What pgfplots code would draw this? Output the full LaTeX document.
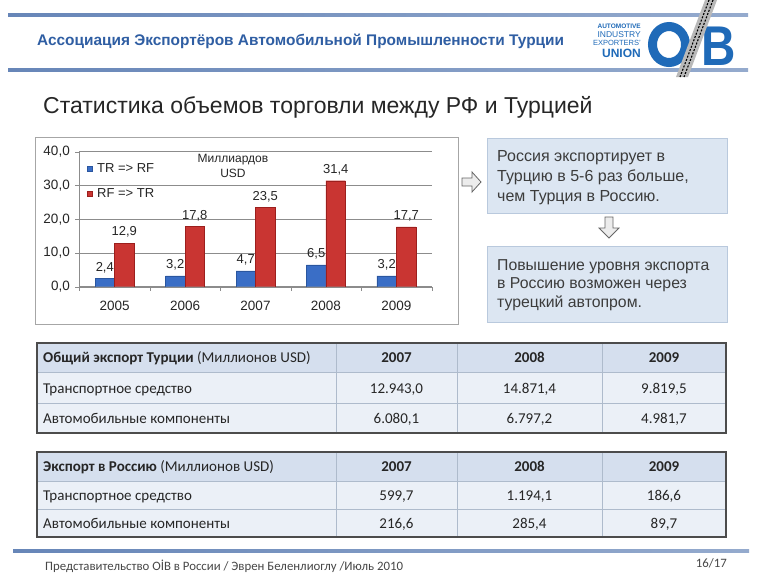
\documentclass[border=0pt]{standalone}
\usepackage{fontspec}
\setmainfont{Liberation Sans}
\newfontfamily\calibri{Carlito}
\usepackage{pgfplots}
\pgfplotsset{compat=1.18}

\definecolor{hdrblue}{HTML}{2F5EA3}
\definecolor{lineblue}{HTML}{6786B8}
\definecolor{logoblue}{HTML}{1F6AB8}
\definecolor{boxfill}{HTML}{DCE6F2}
\definecolor{boxdraw}{HTML}{B9C9DD}
\definecolor{barblue}{HTML}{3A6EC6}
\definecolor{barbluee}{HTML}{2A569F}
\definecolor{barred}{HTML}{C93532}
\definecolor{barrede}{HTML}{9C1F1D}
\definecolor{thead}{HTML}{D5DFEE}
\definecolor{tbody}{HTML}{EBF0F7}
\definecolor{tline}{HTML}{AEBBCC}
\definecolor{txt}{HTML}{262626}
\definecolor{gridgray}{HTML}{8C8C8C}

\newcommand\fs[1]{\fontsize{#1}{#1}\selectfont}

\begin{document}
\begin{tikzpicture}
\useasboundingbox (0,0) rectangle (768pt,-576pt);
\fill[white] (0,0) rectangle (768pt,-576pt);

\begin{scope}[x=1pt,y=-1pt]
% header
\shade[left color=lineblue, right color=lineblue!70] (8,13.5) rectangle (748,16.5);
\shade[left color=lineblue, right color=lineblue!70] (8,68.5) rectangle (748,71.5);
\node[anchor=base west, inner sep=0, text=hdrblue, font=\fs{15.4}\bfseries] at (37,45.5) {Ассоциация Экспортёров Автомобильной Промышленности Турции};
% logo
\fill[white] (592,18) rectangle (742,68);
\node[anchor=east, inner sep=0, text=logoblue, font=\fs{6.5}\bfseries] at (641,26) {AUTOMOTIVE};
\node[anchor=east, inner sep=0, text=logoblue, font=\fs{8.5}] at (641,34.5) {INDUSTRY};
\node[anchor=east, inner sep=0, text=logoblue, font=\fs{7.5}] at (641,43) {EXPORTERS'};
\node[anchor=east, inner sep=0, text=logoblue, font=\fs{12}\bfseries] at (641,53.5) {UNION};
\draw[logoblue, line width=9] (669,44.5) ellipse (16.5 and 18);
\node[anchor=west, inner sep=0, text=logoblue, font=\fs{56}\bfseries] at (701,46) {\scalebox{0.85}[1]{B}};
\fill[gray!55] (705,0) -- (717,0) -- (688,77) -- (676,77) -- cycle;
\draw[black, dash pattern=on 2pt off 1.5pt, line width=1.1] (709,0) -- (680,77) (713,0) -- (684,77);

% title
\node[anchor=base west, inner sep=0, text=txt, font=\fs{23}] at (43,113) {Статистика объемов торговли между РФ и Турцией};

% chart frame
\filldraw[fill=white, draw=gray!70] (35,137) rectangle (458,324);

% arrows and boxes
\filldraw[fill=gray!15, draw=gray!80!black, line width=0.8] (462,178) -- (472,178) -- (472,172) -- (481,182) -- (472,192) -- (472,186) -- (462,186) -- cycle;
\filldraw[fill=gray!15, draw=gray!80!black, line width=0.8] (605,217) -- (613,217) -- (613,228) -- (619,228) -- (609,238) -- (599,228) -- (605,228) -- cycle;
\filldraw[fill=boxfill, draw=boxdraw] (487,138) rectangle (727,213);
\filldraw[fill=boxfill, draw=boxdraw] (487,246) rectangle (727,322);
\node[anchor=west, align=left, inner sep=0, text=txt!90, font=\fontsize{16}{20}\selectfont] at (497,178) {Россия экспортирует в\\Турцию в 5-6 раз больше,\\чем Турция в Россию.};
\node[anchor=west, align=left, inner sep=0, text=txt!90, font=\fontsize{15.8}{18.5}\selectfont] at (497,285) {Повышение уровня экспорта\\в Россию возможен через\\турецкий автопром.};

% table 1
\fill[thead] (37,343) rectangle (726,372);
\fill[tbody] (37,372) rectangle (726,433);
\draw[tline] (37,372) -- (726,372) (37,403) -- (726,403) (336,343) -- (336,433) (457,343) -- (457,433) (602,343) -- (602,433);
\draw[gray!60!black, line width=1.2] (37,343) rectangle (726,433);
\begin{scope}[font=\calibri\fs{15}, text=txt, inner sep=0]
\node[anchor=base west] at (43,362.5) {\textbf{Общий экспорт Турции} (Миллионов USD)};
\node[anchor=base] at (396.5,362.5) {\textbf{2007}};
\node[anchor=base] at (529.5,362.5) {\textbf{2008}};
\node[anchor=base] at (664,362.5) {\textbf{2009}};
\node[anchor=base west] at (43,393) {Транспортное средство};
\node[anchor=base] at (396.5,393) {12.943,0};
\node[anchor=base] at (529.5,393) {14.871,4};
\node[anchor=base] at (664,393) {9.819,5};
\node[anchor=base west] at (43,423) {Автомобильные компоненты};
\node[anchor=base] at (396.5,423) {6.080,1};
\node[anchor=base] at (529.5,423) {6.797,2};
\node[anchor=base] at (664,423) {4.981,7};
\end{scope}

% table 2
\fill[thead] (37,452) rectangle (726,481);
\fill[tbody] (37,481) rectangle (726,537);
\draw[tline] (37,481) -- (726,481) (37,509) -- (726,509) (336,452) -- (336,537) (457,452) -- (457,537) (602,452) -- (602,537);
\draw[gray!60!black, line width=1.2] (37,452) rectangle (726,537);
\begin{scope}[font=\calibri\fs{15}, text=txt, inner sep=0]
\node[anchor=base west] at (43,471.5) {\textbf{Экспорт в Россию} (Миллионов USD)};
\node[anchor=base] at (396.5,471.5) {\textbf{2007}};
\node[anchor=base] at (529.5,471.5) {\textbf{2008}};
\node[anchor=base] at (664,471.5) {\textbf{2009}};
\node[anchor=base west] at (43,500) {Транспортное средство};
\node[anchor=base] at (396.5,500) {599,7};
\node[anchor=base] at (529.5,500) {1.194,1};
\node[anchor=base] at (664,500) {186,6};
\node[anchor=base west] at (43,528) {Автомобильные компоненты};
\node[anchor=base] at (396.5,528) {216,6};
\node[anchor=base] at (529.5,528) {285,4};
\node[anchor=base] at (664,528) {89,7};
\end{scope}

% footer
\shade[left color=lineblue, right color=lineblue!70] (13,549.5) rectangle (749,552.5);
\node[anchor=base west, inner sep=0, text=txt!85, font=\calibri\fs{12.8}] at (45,570) {Представительство OİB в России / Эврен Беленлиоглу /Июль 2010};
\node[anchor=base east, inner sep=0, text=txt!85, font=\calibri\fs{12.8}] at (727,567) {16/17};
\end{scope}

\begin{axis}[
  at={(79.3pt,-286.7pt)}, anchor=south west,
  scale only axis, width=352.4pt, height=135pt,
  xmin=-0.5, xmax=4.5, ymin=0, ymax=40,
  axis lines*=left,
  axis line style={gridgray},
  ybar=0pt, bar width=19.5pt,
  ytick={0,10,20,30,40},
  yticklabel style={xshift=-2pt, /pgf/number format/.cd, fixed, fixed zerofill, precision=1, use comma, assume math mode=true},
  ymajorgrids, grid style={gridgray, line width=0.6pt},
  xtick={0,1,2,3,4}, xticklabels={2005,2006,2007,2008,2009},
  major x tick style={draw=none},
  minor xtick={-0.5,0.5,1.5,2.5,3.5,4.5},
  tick align=outside, major tick length=4pt, minor tick length=4pt,
  every tick/.style={gridgray},
  tick label style={font=\fs{13.5}, text=txt},
  xticklabel style={yshift=-7pt},
  nodes near coords={\pgfmathprintnumber[fixed,fixed zerofill,precision=1,use comma,assume math mode=true]{\pgfplotspointmeta}},
  nodes near coords style={font=\fs{13}, text=txt, yshift=2pt},
  legend style={at={(0.012,0.935)}, anchor=north west, draw=none, fill=none, font=\fs{13}, text=txt, row sep=12pt,
    nodes={inner sep=1pt}, /tikz/every odd column/.append style={column sep=4pt}},
  legend cell align=left,
  legend image code/.code={\fill[#1] (0pt,-2.5pt) rectangle (5pt,2.5pt);},
]
\addplot[fill=barblue, draw=barbluee, line width=0.4pt] coordinates {(0,2.4) (1,3.2) (2,4.7) (3,6.5) (4,3.2)};
\addplot[fill=barred, draw=barrede, line width=0.4pt] coordinates {(0,12.9) (1,17.8) (2,23.5) (3,31.4) (4,17.7)};
\legend{TR => RF, RF => TR}
\node[align=center, font=\fontsize{12}{15}\selectfont, text=txt] at (axis cs:1.68,35.9) {Миллиардов\\USD};
\end{axis}
\end{tikzpicture}
\end{document}
